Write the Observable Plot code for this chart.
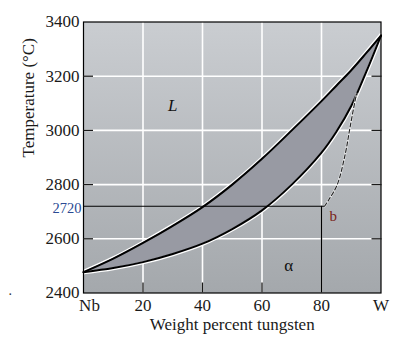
<!DOCTYPE html>
<html>
<head>
<meta charset="utf-8">
<script src="https://cdn.jsdelivr.net/npm/d3@7"></script>
<script src="https://cdn.jsdelivr.net/npm/@observablehq/plot@0.6"></script>
<style>
  html, body { margin: 0; padding: 0; background: #ffffff; }
  svg { display: block; }
</style>
</head>
<body>
<div id="chart"></div>
<script>
// Composition (wt% W) and temperatures (°C)
const wt       = [0,    10,   20,   30,   40,   50,   60,   70,   80,   85,   90,   95,   100];
const liquidus = [2477, 2527, 2585, 2648, 2717, 2800, 2895, 3000, 3108, 3165, 3222, 3285, 3350];
const solidus  = [2477, 2492, 2514, 2544, 2582, 2636, 2705, 2800, 2918, 2995, 3090, 3215, 3350];

// dashed boundary from point b up to the solidus
const dashW = [81,   82.5, 85.3, 88,   89.6, 91.3, 91.8];
const dashT = [2720, 2745, 2800, 2914, 3012, 3110, 3135];

// tie line at point b
const tieW = 80;
const tieT = 2720;
const tieEndW = 81;

const xTicks = [0, 20, 40, 60, 80, 100];
const xTickLabels = ["Nb", "20", "40", "60", "80", "W"];
const yTicks = [2400, 2600, 2800, 3000, 3200, 3400];
const gridXs = [20, 40, 60, 80];
const gridYs = [2600, 2800, 3000, 3200];

const liquidLabel = {x: 30, y: 3090, text: "L"};
const alphaLabel  = {x: 69, y: 2500, text: "α"};

const rows = wt.map((x, i) => ({x, liq: liquidus[i], sol: solidus[i]}));
const dash = dashW.map((x, i) => ({x, y: dashT[i]}));
const xLabel = d => xTickLabels[xTicks.indexOf(d)];
const FONT = "'Liberation Serif', 'Times New Roman', serif";
const CURVE = "catmull-rom";

const chart = Plot.plot({
  width: 406,
  height: 363,
  marginLeft: 83,
  marginRight: 25.5,
  marginTop: 21.5,
  marginBottom: 70.5,
  style: {fontFamily: FONT, fontSize: "17px", color: "#1a1a1a", background: "#ffffff"},
  x: {domain: [0, 100]},
  y: {domain: [2400, 3400]},
  marks: [
    Plot.frame({fill: "url(#bggrad)", stroke: null}),
    Plot.gridX(gridXs, {stroke: "#ffffff", strokeOpacity: 1, strokeWidth: 1.6}),
    Plot.gridY(gridYs, {stroke: "#ffffff", strokeOpacity: 1, strokeWidth: 1.6}),
    // white halos
    Plot.line(rows, {x: "x", y: "liq", stroke: "#ffffff", strokeWidth: 4.5, curve: CURVE}),
    Plot.line(rows, {x: "x", y: "sol", stroke: "#ffffff", strokeWidth: 4.5, curve: CURVE}),
    Plot.areaY(rows, {x: "x", y1: "sol", y2: "liq", fill: "#989aa3", curve: CURVE}),
    Plot.line(rows, {x: "x", y: "liq", stroke: "#000000", strokeWidth: 2, curve: CURVE}),
    Plot.line(rows, {x: "x", y: "sol", stroke: "#000000", strokeWidth: 2, curve: CURVE}),
    // dashed boundary
    Plot.line(dash, {x: "x", y: "y", stroke: "#ffffff", strokeWidth: 2.2, strokeOpacity: 0.6, curve: CURVE}),
    Plot.line(dash, {x: "x", y: "y", stroke: "#222222", strokeWidth: 1.1, strokeDasharray: "4,2.5", curve: CURVE}),
    // tie lines
    Plot.ruleY([tieT], {x1: 0, x2: tieEndW, stroke: "#000000", strokeWidth: 1.1}),
    Plot.ruleX([tieW], {y1: 2400, y2: tieT, stroke: "#000000", strokeWidth: 1.3}),
    Plot.frame({stroke: "#000000", strokeWidth: 1.2}),
    // inward ticks
    Plot.axisY(gridYs, {anchor: "left", tickSize: -10, tickFormat: () => "", label: null, strokeWidth: 1.3}),
    Plot.axisY(gridYs, {anchor: "right", tickSize: -10, tickFormat: () => "", label: null, strokeWidth: 1.3}),
    Plot.axisX([20, 40, 60], {anchor: "bottom", tickSize: -10, tickFormat: () => "", label: null, strokeWidth: 1.3}),
    // tick labels
    Plot.axisY(yTicks, {anchor: "left", tickSize: 0, tickPadding: 4, tickFormat: d => String(d), label: null, fontSize: 17, fontFamily: FONT, fill: "#1a1a1a"}),
    Plot.axisX(xTicks.slice(1), {anchor: "bottom", tickSize: 0, tickPadding: 6, tickFormat: xLabel, label: null, fontSize: 17, fontFamily: FONT, fill: "#1a1a1a"}),
    Plot.axisX(xTicks.slice(0, 1), {anchor: "bottom", tickSize: 0, tickPadding: 6, tickFormat: xLabel, label: null, fontSize: 17, fontFamily: FONT, fill: "#1a1a1a", dx: 6}),
    // extra labels
    Plot.text([tieT], {x: 0, y: d => d, text: d => String(d), textAnchor: "end", dx: -2, dy: 2, fontSize: 14.5, fontFamily: FONT, fill: "#2a4a93"}),
    Plot.text([{x: tieEndW, y: tieT}], {x: "x", y: "y", text: () => "b", textAnchor: "start", dx: 5, dy: 10, fontSize: 15, fontFamily: FONT, fill: "#7a2418"}),
    Plot.text([liquidLabel], {x: "x", y: "y", text: "text", fontSize: 17, fontFamily: FONT, fontStyle: "italic", fill: "#111111"}),
    Plot.text([alphaLabel], {x: "x", y: "y", text: "text", fontSize: 17, fontFamily: FONT, fill: "#111111"}),
    Plot.text(["."], {frameAnchor: "bottom-left", dx: -75, dy: 2, fontSize: 14, fontFamily: FONT, fill: "#333333"}),
    // axis titles
    Plot.text(["Weight percent tungsten"], {frameAnchor: "bottom", dy: 37, fontSize: 17, fontFamily: FONT, fill: "#1a1a1a"}),
    Plot.text(["Temperature (°C)"], {frameAnchor: "left", rotate: -90, dx: -55, fontSize: 17, fontFamily: FONT, fill: "#1a1a1a"})
  ]
});

// background gradient
const ns = "http://www.w3.org/2000/svg";
const defs = document.createElementNS(ns, "defs");
defs.innerHTML = '<linearGradient id="bggrad" x1="0" y1="0" x2="0" y2="1">' +
  '<stop offset="0" stop-color="#cacdd1"/><stop offset="1" stop-color="#a4a8ac"/></linearGradient>';
chart.insertBefore(defs, chart.firstChild);

document.getElementById("chart").appendChild(chart);
</script>
</body>
</html>
